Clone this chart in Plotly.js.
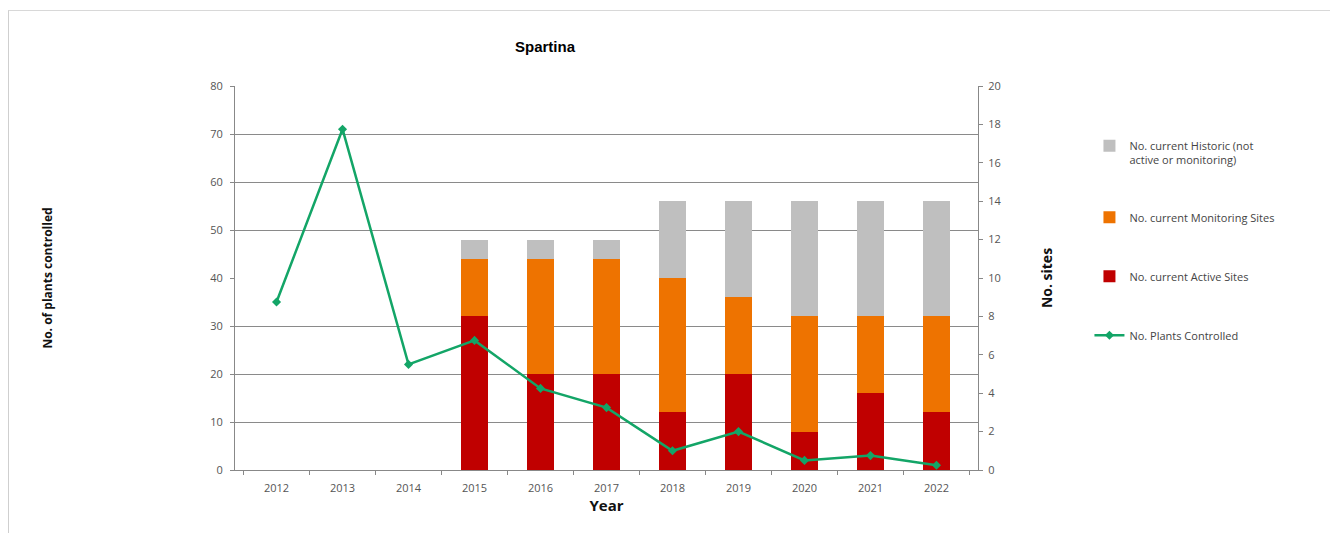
<!DOCTYPE html>
<html>
<head>
<meta charset="utf-8">
<script src="https://cdn.plot.ly/plotly-3.0.1.min.js"></script>
<style>
html,body{margin:0;padding:0;background:#fff;}
#wrap{position:relative;width:1330px;height:533px;overflow:hidden;}
#chart{position:absolute;left:0;top:0;width:1330px;height:533px;}
#frame{position:absolute;left:8px;top:10px;width:1330px;height:540px;border-left:1px solid #cfcfcf;border-top:1px solid #d8d8d8;pointer-events:none;}
</style>
</head>
<body>
<div id="wrap"><div id="chart"></div><div id="frame"></div></div>
<script>
var years = ['2012','2013','2014','2015','2016','2017','2018','2019','2020','2021','2022'];
var activeSites = [null,null,null,8,5,5,3,5,2,4,3];
var monitoringSites = [null,null,null,3,6,6,7,4,6,4,5];
var historicSites = [null,null,null,1,1,1,4,5,6,6,6];
var plantsControlled = [35,71,22,27,17,13,4,8,2,3,1];

var tickFont = {family:'Open Sans, Liberation Sans, sans-serif', size:11, color:'#555'};

var traces = [
  {type:'bar', name:'No. current Active Sites', x:years, y:activeSites, yaxis:'y',
   marker:{color:'#C00000'}, legendrank:3, legendgroup:'a'},
  {type:'bar', name:'No. current Monitoring Sites', x:years, y:monitoringSites, yaxis:'y',
   marker:{color:'#EE7300'}, legendrank:2, legendgroup:'m'},
  {type:'bar', name:'No. current Historic (not<br>active or monitoring)', x:years, y:historicSites, yaxis:'y',
   marker:{color:'#BFBFBF'}, legendrank:1, legendgroup:'h'},
  {type:'scatter', mode:'lines+markers', name:'No. Plants Controlled', x:years, y:plantsControlled, yaxis:'y2',
   line:{color:'#13A567', width:2.5}, marker:{symbol:'diamond', size:7, color:'#13A567'}, legendrank:4, legendgroup:'p'}
];

var layout = {
  width:1330, height:533,
  margin:{l:235, r:352, t:86, b:63},
  paper_bgcolor:'rgba(0,0,0,0)', plot_bgcolor:'#fff',
  barmode:'stack', bargap:0.6,
  showlegend:true,
  title:{text:'<b>Spartina</b>', x:(545/1330), xanchor:'center', y:1-(47/533), yanchor:'middle',
         font:{family:'Liberation Sans Narrow, Liberation Sans, Arial, sans-serif', size:15, color:'#000'}},
  xaxis:{type:'category', showline:true, linecolor:'#888', linewidth:1, ticks:'outside', tickson:'boundaries',
         ticklen:4, tickcolor:'#888', tickfont:tickFont, showgrid:false, ticklabelstandoff:8,
         title:{text:'<b>Year</b>', standoff:4, font:{family:'Open Sans, Liberation Sans, sans-serif', size:15, color:'#111'}}},
  yaxis:{range:[0,20], dtick:2, side:'right', showline:true, linecolor:'#888', linewidth:1,
         ticks:'outside', ticklen:4, tickcolor:'#888', tickfont:tickFont, showgrid:false, zeroline:false,
         ticklabelstandoff:3,
         minor:{dtick:2.5, showgrid:true, gridcolor:'#8a8a8a', gridwidth:1, ticks:''},
         title:{text:'<b>No. sites</b>', standoff:41, font:{family:'Open Sans, Liberation Sans, sans-serif', size:14, color:'#111'}}},
  yaxis2:{range:[0,80], dtick:10, overlaying:'y', side:'left', showline:true, linecolor:'#888', linewidth:1,
          ticks:'outside', ticklen:4, tickcolor:'#888', tickfont:tickFont, showgrid:false, zeroline:false,
          ticklabelstandoff:5,
          title:{text:'<b>No. of plants controlled</b>', standoff:155, font:{family:'Open Sans, Liberation Sans, sans-serif', size:12, color:'#111'}}},
  legend:{x:1.150, xanchor:'left', y:(470-132)/384, yanchor:'top', traceorder:'grouped', tracegroupgap:40,
          valign:'top', bgcolor:'rgba(0,0,0,0)',
          font:{family:'Open Sans, Liberation Sans, sans-serif', size:11, color:'#444'}}
};

Plotly.newPlot('chart', traces, layout, {displayModeBar:false, staticPlot:true});
</script>
</body>
</html>
